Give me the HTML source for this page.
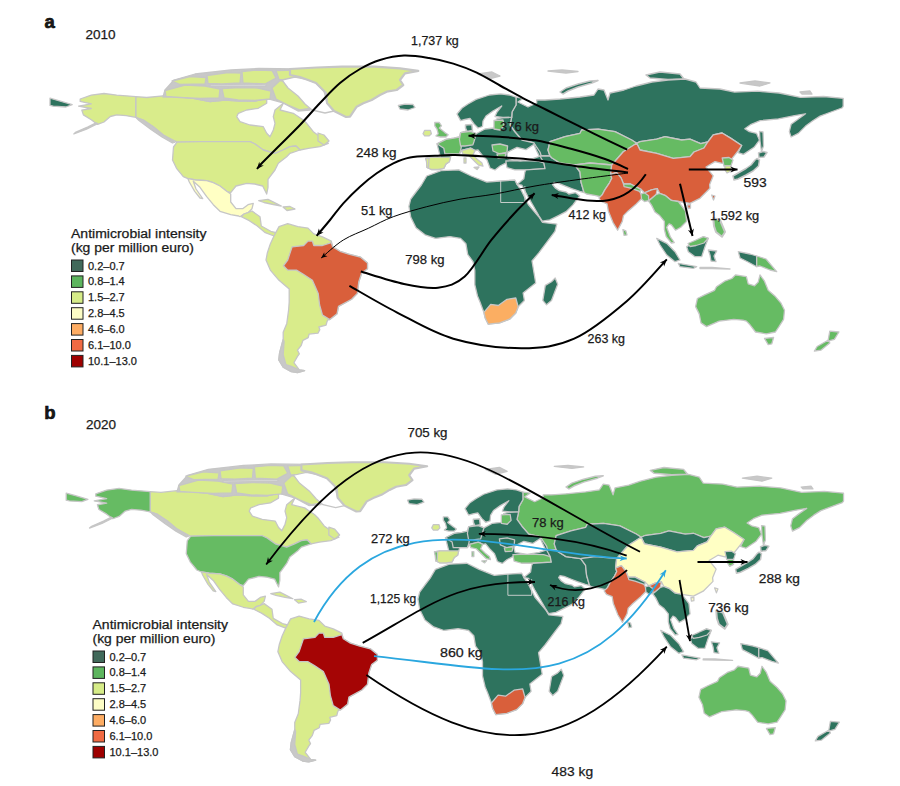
<!DOCTYPE html>
<html><head><meta charset="utf-8"><style>
html,body{margin:0;padding:0;background:#fff;}
svg{display:block;}
text{font-family:"Liberation Sans",sans-serif;fill:#1a1a1a;stroke:#1a1a1a;stroke-width:0.25px;}
</style></head><body>
<svg width="900" height="786" viewBox="0 0 900 786">
<rect width="900" height="786" fill="#fff"/>
<g transform="translate(0,0)" stroke="#c6c6c6" stroke-width="1.3" stroke-linejoin="round">
<path d="M135.7,96.6 146.7,97.5 163.3,95.8 176.7,96.7 193.3,98.3 210.0,101.7 225.0,100.0 240.0,101.0 255.0,101.0 266.7,98.3 278.3,98.3 283.3,103.3 280.0,110.0 293.3,113.3 303.3,120.0 306.7,123.3 313.3,131.7 320.0,136.7 328.3,143.3 320.0,146.7 308.3,148.3 300.0,150.0 296.0,146.0 290.0,146.7 283.0,150.0 275.0,153.3 263.3,150.0 255.0,144.0 250.0,141.7 200.0,141.7 177.0,142.2 163.3,135.0 153.3,126.7 143.3,120.0 135.7,117.3Z" fill="#d9ec8b"/>
<path d="M266.7,98.3 266.7,103.3 258.3,108.3 246.7,110.0 238.3,113.3 236.7,116.7 240.0,121.7 250.0,125.0 263.3,126.7 266.7,133.3 270.0,136.7 273.3,130.0 275.0,123.3 273.3,116.7 275.0,110.0 283.3,103.3 278.3,98.3Z" fill="#ffffff"/>
<path d="M318.0,133.0 324.0,135.0 329.0,141.0 324.0,145.0 318.0,141.0Z" fill="#d9ec8b"/>
<path d="M177.0,142.2 200.0,141.7 250.0,141.7 255.0,144.0 263.3,150.0 275.0,153.3 283.0,150.0 290.0,146.7 296.0,146.0 300.0,150.0 290.0,153.3 286.7,156.7 278.3,163.3 275.0,170.0 270.0,176.7 268.0,179.3 268.0,187.3 266.7,194.0 262.7,186.0 254.7,184.0 246.7,183.3 236.0,186.0 230.7,192.7 226.7,191.3 220.0,186.0 213.3,182.7 206.7,180.7 196.0,180.0 188.0,178.7 183.3,176.7 176.5,168.3 172.5,160.0 173.5,147.0Z" fill="#d9ec8b"/>
<path d="M80.2,99.0 91.3,95.1 104.0,93.5 116.7,95.1 135.7,96.6 135.7,117.3 126.2,115.7 116.7,114.9 110.3,116.5 104.0,122.0 97.6,124.4 91.3,119.7 83.4,114.9 81.8,110.1 91.3,108.5 78.6,106.2 91.3,103.8 80.2,101.4Z" fill="#d9ec8b"/>
<path d="M188.0,178.7 196.0,180.0 206.7,180.7 213.3,182.7 220.0,186.0 226.7,191.3 230.7,194.0 230.7,202.0 236.0,208.7 242.7,208.7 248.0,204.7 253.3,203.3 252.0,208.7 248.0,212.7 244.0,214.0 240.0,216.7 238.7,216.0 230.7,214.7 220.0,211.3 213.3,204.7 206.7,196.7 200.0,187.3 193.3,181.3 196.0,189.0 202.7,198.7 200.0,198.0 194.7,191.3 189.3,182.0Z" fill="#ffffc4"/>
<path d="M244.0,214.0 248.0,212.7 252.0,211.0 260.0,216.7 261.3,226.0 270.7,231.3 276.0,232.7 274.0,236.0 265.3,232.7 257.3,226.0 249.3,220.7 241.3,216.7Z" fill="#d9ec8b"/>
<path d="M258.7,200.7 268.0,199.3 276.0,203.3 281.3,206.0 273.3,204.5 264.0,202.5Z" fill="#d9ec8b"/>
<path d="M283.0,207.0 290.0,206.5 295.0,209.0 287.0,210.5Z" fill="#d9ec8b"/>
<path d="M398.3,105.5 405.0,104.2 413.0,104.5 415.0,107.5 408.0,110.0 400.0,109.0Z" fill="#2e735e"/>
<path d="M165.0,90.0 174.0,80.0 195.0,74.0 231.0,70.0 259.0,68.5 297.0,69.0 318.0,69.0 324.0,70.5 310.0,76.0 300.0,80.0 292.0,86.0 300.0,92.0 310.0,104.0 310.0,110.0 298.0,111.0 283.0,103.0 266.7,98.3 255.0,101.0 240.0,101.0 225.0,100.0 210.0,101.7 193.3,98.3 176.7,96.7 163.0,97.0Z" fill="#c8c8c8"/>
<path d="M165.0,90.5 185.0,85.0 205.0,86.0 220.0,89.0 219.0,98.0 200.0,98.5 180.0,97.5 166.0,96.5Z" fill="#d9ec8b"/>
<path d="M172.0,81.0 190.0,76.5 206.0,77.5 205.0,84.0 180.0,84.5Z" fill="#d9ec8b"/>
<path d="M207.0,75.5 228.0,72.5 241.0,73.0 240.0,83.0 222.0,84.0 208.0,83.5Z" fill="#d9ec8b"/>
<path d="M242.0,71.5 258.0,70.0 272.0,70.5 276.0,78.0 265.0,84.0 243.0,83.0Z" fill="#d9ec8b"/>
<path d="M276.0,70.5 296.0,70.0 318.0,70.5 308.0,75.0 296.0,80.0 279.0,79.5Z" fill="#d9ec8b"/>
<path d="M222.0,88.5 240.0,87.5 258.0,88.0 271.0,91.0 270.0,99.0 255.0,100.5 238.0,100.0 224.0,98.0Z" fill="#d9ec8b"/>
<path d="M272.0,88.0 280.0,80.5 291.0,81.5 296.0,90.0 306.0,98.0 309.5,108.5 300.0,110.0 288.0,105.0 276.0,99.0Z" fill="#d9ec8b"/>
<path d="M210.0,85.2 266.0,84.8 266.0,86.3 210.0,86.7Z" fill="#ffffff"/>
<path d="M282.0,80.0 295.0,77.0 305.0,79.0 316.0,83.0 324.0,91.0 327.0,103.0 334.0,111.0 325.0,113.0 312.0,110.0 305.0,104.0 298.0,96.0 288.0,88.0Z" fill="#ffffff"/>
<path d="M290.0,69.0 316.7,67.5 341.7,66.7 375.0,66.7 400.0,68.3 418.3,70.8 405.0,73.3 400.0,80.0 403.3,85.0 396.7,90.0 386.7,91.7 380.0,95.0 371.7,100.0 363.3,103.3 356.7,106.7 350.0,116.7 346.0,117.0 338.0,113.0 334.0,111.0 327.0,103.0 326.0,93.0 316.0,83.0 300.0,77.0 290.0,75.0Z" fill="#d9ec8b" stroke-width="2.2"/>
<path d="M135.7,117.3 143.3,120.0 153.3,126.7 163.3,135.0 175.0,142.2 172.5,143.0 162.0,137.0 151.0,129.5 139.0,120.5Z" fill="#c8c8c8"/>
<path d="M548.0,71.0 562.0,70.0 578.0,71.5 566.0,73.0Z" fill="#c8c8c8"/>
<path d="M646.0,75.0 660.0,72.0 680.0,74.0 684.0,79.0 668.0,79.5 650.0,78.0Z" fill="#2e735e" stroke-width="1.5"/>
<path d="M740.0,83.0 755.0,81.0 770.0,83.0 760.0,86.0Z" fill="#c8c8c8"/>
<path d="M800.0,92.0 810.0,91.0 812.0,94.0 802.0,94.0Z" fill="#c8c8c8"/>
<path d="M478.0,74.0 492.0,72.0 500.0,76.0 488.0,79.0Z" fill="#c8c8c8"/>
<path d="M97.6,123.6 86.5,129.2 73.8,133.9 75.4,132.4 88.1,126.8 96.1,122.8Z" fill="#c8c8c8"/>
<path d="M50.0,98.2 59.5,100.9 72.2,104.6 65.9,107.0 53.2,106.2 50.0,105.4Z" fill="#2e735e"/>
<path d="M274.0,236.0 279.0,226.6 287.7,223.7 297.9,226.6 308.0,228.1 313.8,233.9 322.5,236.8 331.3,241.1 332.7,246.9 340.0,251.3 348.7,254.2 360.3,257.1 367.5,262.9 367.5,268.7 361.7,273.0 358.8,281.7 357.4,293.4 351.6,299.2 338.5,306.4 337.1,313.7 329.8,319.5 327.9,319.8 327.0,321.6 326.1,325.2 318.9,327.0 319.8,329.6 318.0,333.2 309.1,334.1 308.2,337.7 302.9,340.4 301.1,345.7 297.5,350.2 299.3,353.8 297.5,356.4 293.9,362.7 299.3,369.8 304.6,370.7 297.5,372.5 291.3,371.6 283.2,367.1 278.8,360.0 279.6,352.9 283.2,339.5 283.2,332.3 286.8,323.4 288.6,310.0 289.2,302.0 289.2,289.0 279.0,280.3 270.3,270.1 266.0,260.0 267.4,252.7 270.3,244.0Z" fill="#d9ec8b"/>
<path d="M284.1,341.3 283.2,354.6 285.9,364.5 291.3,366.3 299.3,369.8 304.6,370.7 297.5,372.5 291.3,371.6 283.2,367.1 278.8,360.0 279.6,352.9 283.2,339.5Z" fill="#c8c8c8"/>
<path d="M283.4,265.8 287.7,260.0 292.1,246.9 303.7,245.5 308.0,241.1 312.4,241.1 313.8,245.5 322.5,245.5 331.3,242.6 332.7,246.9 340.0,251.3 348.7,254.2 360.3,257.1 367.5,262.9 367.5,268.7 361.7,273.0 358.8,281.7 357.4,293.4 351.6,299.2 338.5,306.4 337.1,313.7 329.8,319.5 322.5,315.1 319.6,305.0 318.2,293.4 312.4,280.3 303.7,274.5 296.4,270.1 287.7,270.1Z" fill="#d95f3b"/>
<path d="M426.7,176.0 441.0,170.7 458.8,169.8 471.3,176.0 486.8,182.1 500.2,181.0 514.8,180.0 517.0,184.4 521.2,190.3 528.3,204.5 539.0,217.0 542.5,222.4 556.8,224.1 555.0,231.3 549.7,238.4 539.0,252.7 532.0,261.0 535.7,283.0 523.1,293.0 524.4,300.5 518.2,306.8 515.8,313.0 509.6,319.2 499.6,322.9 488.3,324.2 485.2,318.0 483.9,312.4 480.0,302.0 477.5,296.0 474.8,284.7 474.8,270.5 473.0,261.6 467.7,254.4 465.9,243.7 460.6,238.4 449.9,236.6 435.6,238.4 425.0,234.8 416.0,227.7 410.7,217.0 408.9,206.3 410.7,199.2 416.0,192.0 421.4,185.0Z" fill="#2e735e"/>
<path d="M483.9,312.4 490.7,304.3 498.3,305.5 507.0,299.3 515.8,298.0 518.2,306.8 515.8,313.0 509.6,319.2 499.6,322.9 488.3,324.2 485.2,318.0Z" fill="#fbae62"/>
<path d="M555.2,278.0 557.7,284.2 551.5,300.4 546.5,304.8 542.8,300.4 545.3,285.4 551.5,281.7Z" fill="#2e735e"/>
<path d="M516.0,97.2 523.3,98.3 518.0,102.0 528.0,107.0 536.7,103.0 536.7,100.0 545.0,100.0 560.0,99.0 580.0,97.0 594.0,95.0 598.0,89.0 604.0,90.0 608.0,100.0 610.0,93.0 624.0,90.0 636.0,86.0 652.0,82.0 668.0,80.0 685.0,79.0 696.0,82.0 700.0,88.0 720.0,89.0 734.5,92.1 757.7,91.2 779.1,93.0 800.5,97.4 823.6,96.5 843.2,98.3 843.2,106.3 841.9,108.0 831.0,112.0 820.1,116.1 812.8,120.7 805.6,126.1 798.3,133.4 791.1,137.0 789.3,131.6 791.1,124.3 798.3,118.9 805.6,113.8 794.7,115.6 778.4,118.9 760.2,120.7 751.2,124.3 744.8,128.8 749.3,131.6 756.6,133.4 759.5,140.2 754.1,147.3 743.5,154.4 738.1,152.7 741.7,145.5 731.0,138.4 722.1,133.0 713.2,134.8 707.8,142.0 700.7,143.7 690.0,139.2 681.7,140.0 665.0,136.7 656.7,139.2 640.0,141.7 636.7,143.3 631.7,140.0 615.0,131.7 598.3,129.2 581.7,130.0 580.0,133.3 565.0,136.7 550.0,141.7 548.0,150.0 550.0,156.0 540.0,156.0 533.8,142.9 522.0,140.0 515.0,132.0 510.0,125.0 511.7,117.2 512.0,112.0 516.0,105.0Z" fill="#2e735e"/>
<path d="M560.0,92.0 566.0,88.0 578.0,84.0 590.0,81.0 598.0,80.5 592.0,83.0 578.0,87.0 568.0,91.0 563.0,94.0Z" fill="#2e735e" stroke-width="1.5"/>
<path d="M425.8,158.3 431.4,157.2 440.4,157.2 437.0,143.8 446.0,139.3 453.8,138.2 459.4,137.0 460.6,132.6 466.0,131.0 470.6,131.4 476.2,133.7 485.0,129.0 494.0,128.0 495.0,124.0 496.4,119.1 503.0,117.5 511.7,117.2 510.0,125.0 515.0,132.0 522.0,140.0 533.8,142.9 540.0,152.0 543.9,164.2 520.0,162.0 505.8,163.1 500.0,166.0 495.0,170.0 490.0,168.0 487.0,160.0 482.0,155.0 478.0,150.0 475.1,150.5 470.6,148.2 461.7,150.5 459.4,153.8 451.6,153.8 450.5,157.2 449.4,161.7 446.0,163.9 443.8,168.4 438.2,169.5 431.4,169.5 427.0,167.3 427.0,161.7Z" fill="#2e735e"/>
<path d="M457.0,114.0 462.0,108.0 468.0,104.0 476.0,99.4 489.4,95.0 500.6,93.9 509.4,95.0 516.0,97.2 516.0,105.0 512.0,112.0 511.7,117.2 503.0,117.5 495.0,116.5 497.0,112.0 501.7,106.0 493.0,111.0 486.0,116.0 483.0,121.0 482.5,126.5 478.0,128.0 474.0,124.0 470.0,118.5 465.0,119.5 460.6,120.6Z" fill="#2e735e"/>
<path d="M465.5,125.0 471.8,124.5 472.5,130.5 467.0,131.5 465.5,128.0Z" fill="#2e735e" stroke-width="1.5"/>
<path d="M474.0,167.5 479.0,167.0 477.0,169.5Z" fill="#d9ec8b"/>
<path d="M464.0,158.0 466.0,158.0 466.0,163.0 464.0,163.0Z" fill="#d9ec8b"/>
<path d="M434.8,122.5 439.3,122.5 441.5,125.8 439.3,128.1 444.9,132.6 448.2,134.8 446.0,137.0 440.4,137.0 435.9,135.9 438.2,133.7 437.0,129.2 434.8,125.8Z" fill="#66bb63"/>
<path d="M424.7,130.3 430.3,130.3 431.4,133.7 429.2,135.9 424.7,135.9 423.0,133.7Z" fill="#d9ec8b"/>
<path d="M437.0,143.8 446.0,139.3 453.8,138.2 459.4,137.0 461.7,144.9 460.6,150.5 459.4,153.8 451.6,153.8 444.9,153.8 443.8,148.2 440.4,146.0Z" fill="#66bb63"/>
<path d="M425.8,158.3 431.4,157.2 440.4,157.2 450.5,157.2 449.4,161.7 446.0,163.9 443.8,168.4 438.2,169.5 431.4,169.5 427.0,167.3 427.0,161.7Z" fill="#d9ec8b"/>
<path d="M425.8,158.3 429.0,158.0 428.5,167.5 427.0,167.3 426.5,162.0Z" fill="#d9ec8b"/>
<path d="M460.6,132.6 470.6,131.4 476.2,133.7 474.0,141.5 472.9,144.9 465.0,146.0 460.6,146.0 459.4,139.3Z" fill="#66bb63"/>
<path d="M461.7,150.5 470.6,148.2 475.1,150.5 472.9,155.0 477.4,159.4 481.8,162.8 483.0,166.1 478.5,165.0 475.1,161.7 468.4,155.0 462.8,153.8Z" fill="#d9ec8b"/>
<path d="M494.0,120.5 503.0,120.0 504.0,126.0 500.0,130.0 494.0,129.0Z" fill="#66bb63"/>
<path d="M492.0,145.0 500.0,144.0 507.6,146.0 507.0,152.0 500.0,154.0 493.0,151.0Z" fill="#66bb63"/>
<path d="M497.0,154.0 506.0,153.0 505.0,157.5 498.0,158.0Z" fill="#66bb63"/>
<path d="M505.8,161.0 520.4,160.5 537.2,161.0 543.9,163.0 545.0,168.7 526.0,169.8 514.8,169.8 507.0,167.6Z" fill="#2e735e"/>
<path d="M517.0,184.4 523.8,178.8 524.9,172.0 526.0,169.8 545.0,168.7 543.9,163.0 540.0,156.0 550.0,156.0 552.0,158.0 560.0,163.0 575.0,165.0 580.0,172.0 581.0,182.0 584.0,192.5 579.7,191.3 571.6,188.6 564.8,185.9 558.0,183.1 553.9,182.5 552.5,184.5 555.2,187.9 559.3,190.6 566.1,192.0 568.8,194.0 575.6,192.7 579.7,196.1 577.0,199.5 572.9,204.9 566.1,211.7 558.0,215.8 549.8,219.9 542.3,221.2 538.9,215.8 533.5,206.3 528.0,196.8 521.9,185.2Z" fill="#2e735e"/>
<path d="M550.0,141.7 565.0,136.7 580.0,133.3 581.7,130.0 598.3,129.2 615.0,131.7 631.7,140.0 636.7,143.3 623.3,151.7 611.7,165.0 590.0,163.0 575.0,165.0 560.0,163.0 552.0,158.0 550.0,156.0 548.0,150.0Z" fill="#66bb63"/>
<path d="M575.0,165.0 590.0,163.0 611.7,165.0 610.6,174.7 611.8,178.2 609.5,182.8 604.8,189.9 602.4,194.5 606.9,198.1 601.5,197.0 594.7,195.4 586.5,194.0 584.0,192.5 581.0,182.0 580.0,172.0Z" fill="#66bb63"/>
<path d="M636.7,143.3 640.0,141.7 656.7,139.2 665.0,136.7 681.7,140.0 690.0,139.2 700.7,143.7 707.8,142.0 704.0,148.0 694.0,152.0 690.0,156.7 673.3,158.3 656.7,153.3 640.0,150.0Z" fill="#66bb63"/>
<path d="M611.7,165.0 623.3,151.7 636.7,143.3 640.0,150.0 656.7,153.3 673.3,158.3 690.0,156.7 694.0,152.0 704.0,148.0 707.8,142.0 713.2,134.8 722.1,133.0 731.0,138.4 741.7,145.5 738.1,150.9 731.0,159.8 722.1,163.3 715.0,161.6 706.0,167.0 713.2,175.8 709.6,184.7 710.0,188.3 700.0,198.3 690.0,203.3 678.4,201.5 671.4,200.4 665.6,195.7 659.7,193.4 657.4,188.7 651.5,189.9 644.5,192.8 641.0,189.3 630.5,184.0 623.5,184.0 621.2,178.2 616.5,172.3 610.6,174.7Z" fill="#d95f3b"/>
<path d="M722.2,158.0 729.0,157.5 733.0,160.0 731.0,165.8 724.0,166.0Z" fill="#66bb63"/>
<path d="M724.9,165.8 731.0,165.8 731.0,171.0 727.0,173.0 725.0,170.0Z" fill="#d9ec8b"/>
<path d="M733.0,176.0 740.0,172.0 746.0,168.5 751.0,165.0 755.0,160.0 757.0,158.5 759.5,160.0 758.5,166.0 753.0,171.0 746.0,175.0 738.0,179.0 734.0,180.0Z" fill="#2e735e" stroke-width="1.5"/>
<path d="M758.5,153.0 763.0,151.5 767.0,152.5 764.0,157.0 759.0,157.5Z" fill="#2e735e" stroke-width="1.5"/>
<path d="M759.5,131.3 763.0,132.0 763.5,146.0 761.5,151.5 760.0,141.0Z" fill="#2e735e"/>
<path d="M687.5,205.0 690.5,204.5 690.5,208.0 688.0,208.5Z" fill="#d95f3b"/>
<path d="M711.7,195.0 715.0,196.0 713.5,200.0Z" fill="#d95f3b"/>
<path d="M610.6,174.7 616.5,172.3 621.2,178.2 623.5,184.0 630.5,187.5 638.7,189.9 641.0,193.9 644.5,192.8 651.5,189.9 657.4,188.7 656.2,194.5 651.5,198.6 648.0,200.4 644.5,195.7 641.0,199.2 636.3,203.9 628.2,210.9 623.5,215.6 622.3,221.4 617.6,230.2 613.0,222.6 608.3,210.9 607.1,203.9 601.3,201.5 598.9,198.0 602.4,194.5 604.8,189.9 609.5,182.8 611.8,178.2Z" fill="#d95f3b"/>
<path d="M623.5,184.0 630.5,184.0 641.0,189.3 640.4,191.6 630.5,188.1 624.1,186.6Z" fill="#66bb63"/>
<path d="M641.0,193.9 644.5,192.8 648.6,195.7 648.6,200.6 644.5,201.5 641.6,199.2Z" fill="#66bb63"/>
<path d="M656.2,194.5 659.7,193.4 665.6,195.7 671.4,200.4 678.4,201.5 685.4,210.9 686.6,221.4 680.8,227.3 675.5,230.2 671.4,224.9 669.1,223.8 666.7,227.3 670.2,236.6 674.3,242.5 671.4,243.0 666.2,236.6 664.4,229.6 664.4,221.4 659.7,215.6 655.0,212.1 651.5,205.1 648.6,201.0 651.5,198.6Z" fill="#66bb63"/>
<path d="M656.7,238.3 666.7,243.3 675.0,251.7 680.0,260.0 675.0,261.7 666.7,255.0 660.0,245.0Z" fill="#2e735e"/>
<path d="M678.3,263.3 696.7,266.7 693.3,268.3 680.0,266.7Z" fill="#2e735e"/>
<path d="M686.7,246.7 693.3,243.3 703.3,236.7 708.3,238.3 705.0,246.7 701.7,256.7 695.0,256.7 688.3,251.7Z" fill="#2e735e"/>
<path d="M688.0,243.5 695.0,240.5 703.3,236.7 708.3,238.3 704.0,243.0 696.0,245.5 690.0,246.5Z" fill="#66bb63"/>
<path d="M708.3,250.0 716.7,251.0 714.0,256.0 716.0,261.7 711.0,261.0 710.0,255.0Z" fill="#2e735e"/>
<path d="M713.3,218.3 720.0,220.0 725.0,232.0 722.0,236.7 716.0,232.0 714.0,226.0Z" fill="#66bb63" stroke-width="2"/>
<path d="M738.3,251.7 750.0,254.0 756.7,256.0 756.7,266.7 748.0,262.0 740.0,258.0Z" fill="#2e735e"/>
<path d="M756.7,256.0 766.0,259.0 776.7,271.7 770.0,270.0 760.0,266.0 756.7,266.7Z" fill="#66bb63"/>
<path d="M697.4,298.5 704.7,294.8 714.6,290.3 716.5,286.7 724.6,281.2 731.9,278.5 735.5,274.9 746.4,276.7 748.2,283.9 754.6,285.8 758.2,282.1 760.0,274.9 764.5,281.2 768.2,290.3 775.4,296.6 780.9,303.0 784.5,310.2 783.6,319.3 779.0,326.6 775.4,332.0 766.3,333.8 755.5,332.0 750.0,324.8 746.4,321.1 742.8,320.2 733.7,319.3 719.2,321.1 706.5,326.6 701.0,322.9 699.2,313.9 695.6,306.6Z" fill="#66bb63"/>
<path d="M764.5,338.4 773.6,337.5 771.8,343.8 768.2,344.7Z" fill="#66bb63"/>
<path d="M829.8,331.1 838.9,332.0 834.4,339.3 828.0,341.1Z" fill="#66bb63"/>
<path d="M828.0,340.2 829.8,342.9 820.8,350.2 814.4,351.1 817.1,346.5Z" fill="#66bb63"/>
<path d="M622.9,229.6 625.8,230.8 627.0,234.9 624.1,235.4Z" fill="#66bb63"/>
<path d="M508.0,151.9 517.0,147.4 526.0,149.6 533.8,144.5 537.2,151.9 539.4,156.4 532.7,158.6 520.4,160.8 508.0,158.6 507.0,154.1Z" fill="#ffffff"/>
<path d="M700.0,267.5 712.0,267.5 730.0,269.0 712.0,268.6 700.0,268.5Z" fill="#c8c8c8"/>
<path d="M500.7,181 L500.7,202.5 L524.9,202.5 L524.9,186" fill="none" stroke="#d6d6d6" stroke-width="0.9"/>
</g>
<g transform="translate(17.2,396.85) scale(0.98)" stroke="#c6c6c6" stroke-width="1.3" stroke-linejoin="round">
<path d="M135.7,96.6 146.7,97.5 163.3,95.8 176.7,96.7 193.3,98.3 210.0,101.7 225.0,100.0 240.0,101.0 255.0,101.0 266.7,98.3 278.3,98.3 283.3,103.3 280.0,110.0 293.3,113.3 303.3,120.0 306.7,123.3 313.3,131.7 320.0,136.7 328.3,143.3 320.0,146.7 308.3,148.3 300.0,150.0 296.0,146.0 290.0,146.7 283.0,150.0 275.0,153.3 263.3,150.0 255.0,144.0 250.0,141.7 200.0,141.7 177.0,142.2 163.3,135.0 153.3,126.7 143.3,120.0 135.7,117.3Z" fill="#d9ec8b"/>
<path d="M266.7,98.3 266.7,103.3 258.3,108.3 246.7,110.0 238.3,113.3 236.7,116.7 240.0,121.7 250.0,125.0 263.3,126.7 266.7,133.3 270.0,136.7 273.3,130.0 275.0,123.3 273.3,116.7 275.0,110.0 283.3,103.3 278.3,98.3Z" fill="#ffffff"/>
<path d="M318.0,133.0 324.0,135.0 329.0,141.0 324.0,145.0 318.0,141.0Z" fill="#d9ec8b"/>
<path d="M177.0,142.2 200.0,141.7 250.0,141.7 255.0,144.0 263.3,150.0 275.0,153.3 283.0,150.0 290.0,146.7 296.0,146.0 300.0,150.0 290.0,153.3 286.7,156.7 278.3,163.3 275.0,170.0 270.0,176.7 268.0,179.3 268.0,187.3 266.7,194.0 262.7,186.0 254.7,184.0 246.7,183.3 236.0,186.0 230.7,192.7 226.7,191.3 220.0,186.0 213.3,182.7 206.7,180.7 196.0,180.0 188.0,178.7 183.3,176.7 176.5,168.3 172.5,160.0 173.5,147.0Z" fill="#66bb63"/>
<path d="M80.2,99.0 91.3,95.1 104.0,93.5 116.7,95.1 135.7,96.6 135.7,117.3 126.2,115.7 116.7,114.9 110.3,116.5 104.0,122.0 97.6,124.4 91.3,119.7 83.4,114.9 81.8,110.1 91.3,108.5 78.6,106.2 91.3,103.8 80.2,101.4Z" fill="#66bb63"/>
<path d="M188.0,178.7 196.0,180.0 206.7,180.7 213.3,182.7 220.0,186.0 226.7,191.3 230.7,194.0 230.7,202.0 236.0,208.7 242.7,208.7 248.0,204.7 253.3,203.3 252.0,208.7 248.0,212.7 244.0,214.0 240.0,216.7 238.7,216.0 230.7,214.7 220.0,211.3 213.3,204.7 206.7,196.7 200.0,187.3 193.3,181.3 196.0,189.0 202.7,198.7 200.0,198.0 194.7,191.3 189.3,182.0Z" fill="#d9ec8b"/>
<path d="M244.0,214.0 248.0,212.7 252.0,211.0 260.0,216.7 261.3,226.0 270.7,231.3 276.0,232.7 274.0,236.0 265.3,232.7 257.3,226.0 249.3,220.7 241.3,216.7Z" fill="#d9ec8b"/>
<path d="M258.7,200.7 268.0,199.3 276.0,203.3 281.3,206.0 273.3,204.5 264.0,202.5Z" fill="#d9ec8b"/>
<path d="M283.0,207.0 290.0,206.5 295.0,209.0 287.0,210.5Z" fill="#d9ec8b"/>
<path d="M398.3,105.5 405.0,104.2 413.0,104.5 415.0,107.5 408.0,110.0 400.0,109.0Z" fill="#2e735e"/>
<path d="M165.0,90.0 174.0,80.0 195.0,74.0 231.0,70.0 259.0,68.5 297.0,69.0 318.0,69.0 324.0,70.5 310.0,76.0 300.0,80.0 292.0,86.0 300.0,92.0 310.0,104.0 310.0,110.0 298.0,111.0 283.0,103.0 266.7,98.3 255.0,101.0 240.0,101.0 225.0,100.0 210.0,101.7 193.3,98.3 176.7,96.7 163.0,97.0Z" fill="#c8c8c8"/>
<path d="M165.0,90.5 185.0,85.0 205.0,86.0 220.0,89.0 219.0,98.0 200.0,98.5 180.0,97.5 166.0,96.5Z" fill="#d9ec8b"/>
<path d="M172.0,81.0 190.0,76.5 206.0,77.5 205.0,84.0 180.0,84.5Z" fill="#d9ec8b"/>
<path d="M207.0,75.5 228.0,72.5 241.0,73.0 240.0,83.0 222.0,84.0 208.0,83.5Z" fill="#d9ec8b"/>
<path d="M242.0,71.5 258.0,70.0 272.0,70.5 276.0,78.0 265.0,84.0 243.0,83.0Z" fill="#d9ec8b"/>
<path d="M276.0,70.5 296.0,70.0 318.0,70.5 308.0,75.0 296.0,80.0 279.0,79.5Z" fill="#d9ec8b"/>
<path d="M222.0,88.5 240.0,87.5 258.0,88.0 271.0,91.0 270.0,99.0 255.0,100.5 238.0,100.0 224.0,98.0Z" fill="#d9ec8b"/>
<path d="M272.0,88.0 280.0,80.5 291.0,81.5 296.0,90.0 306.0,98.0 309.5,108.5 300.0,110.0 288.0,105.0 276.0,99.0Z" fill="#d9ec8b"/>
<path d="M210.0,85.2 266.0,84.8 266.0,86.3 210.0,86.7Z" fill="#ffffff"/>
<path d="M282.0,80.0 295.0,77.0 305.0,79.0 316.0,83.0 324.0,91.0 327.0,103.0 334.0,111.0 325.0,113.0 312.0,110.0 305.0,104.0 298.0,96.0 288.0,88.0Z" fill="#ffffff"/>
<path d="M290.0,69.0 316.7,67.5 341.7,66.7 375.0,66.7 400.0,68.3 418.3,70.8 405.0,73.3 400.0,80.0 403.3,85.0 396.7,90.0 386.7,91.7 380.0,95.0 371.7,100.0 363.3,103.3 356.7,106.7 350.0,116.7 346.0,117.0 338.0,113.0 334.0,111.0 327.0,103.0 326.0,93.0 316.0,83.0 300.0,77.0 290.0,75.0Z" fill="#d9ec8b" stroke-width="2.2"/>
<path d="M135.7,117.3 143.3,120.0 153.3,126.7 163.3,135.0 175.0,142.2 172.5,143.0 162.0,137.0 151.0,129.5 139.0,120.5Z" fill="#c8c8c8"/>
<path d="M548.0,71.0 562.0,70.0 578.0,71.5 566.0,73.0Z" fill="#c8c8c8"/>
<path d="M646.0,75.0 660.0,72.0 680.0,74.0 684.0,79.0 668.0,79.5 650.0,78.0Z" fill="#66bb63" stroke-width="1.5"/>
<path d="M740.0,83.0 755.0,81.0 770.0,83.0 760.0,86.0Z" fill="#c8c8c8"/>
<path d="M800.0,92.0 810.0,91.0 812.0,94.0 802.0,94.0Z" fill="#c8c8c8"/>
<path d="M478.0,74.0 492.0,72.0 500.0,76.0 488.0,79.0Z" fill="#c8c8c8"/>
<path d="M97.6,123.6 86.5,129.2 73.8,133.9 75.4,132.4 88.1,126.8 96.1,122.8Z" fill="#c8c8c8"/>
<path d="M50.0,98.2 59.5,100.9 72.2,104.6 65.9,107.0 53.2,106.2 50.0,105.4Z" fill="#66bb63"/>
<path d="M274.0,236.0 279.0,226.6 287.7,223.7 297.9,226.6 308.0,228.1 313.8,233.9 322.5,236.8 331.3,241.1 332.7,246.9 340.0,251.3 348.7,254.2 360.3,257.1 367.5,262.9 367.5,268.7 361.7,273.0 358.8,281.7 357.4,293.4 351.6,299.2 338.5,306.4 337.1,313.7 329.8,319.5 327.9,319.8 327.0,321.6 326.1,325.2 318.9,327.0 319.8,329.6 318.0,333.2 309.1,334.1 308.2,337.7 302.9,340.4 301.1,345.7 297.5,350.2 299.3,353.8 297.5,356.4 293.9,362.7 299.3,369.8 304.6,370.7 297.5,372.5 291.3,371.6 283.2,367.1 278.8,360.0 279.6,352.9 283.2,339.5 283.2,332.3 286.8,323.4 288.6,310.0 289.2,302.0 289.2,289.0 279.0,280.3 270.3,270.1 266.0,260.0 267.4,252.7 270.3,244.0Z" fill="#d9ec8b"/>
<path d="M284.1,341.3 283.2,354.6 285.9,364.5 291.3,366.3 299.3,369.8 304.6,370.7 297.5,372.5 291.3,371.6 283.2,367.1 278.8,360.0 279.6,352.9 283.2,339.5Z" fill="#c8c8c8"/>
<path d="M283.4,265.8 287.7,260.0 292.1,246.9 303.7,245.5 308.0,241.1 312.4,241.1 313.8,245.5 322.5,245.5 331.3,242.6 332.7,246.9 340.0,251.3 348.7,254.2 360.3,257.1 367.5,262.9 367.5,268.7 361.7,273.0 358.8,281.7 357.4,293.4 351.6,299.2 338.5,306.4 337.1,313.7 329.8,319.5 322.5,315.1 319.6,305.0 318.2,293.4 312.4,280.3 303.7,274.5 296.4,270.1 287.7,270.1Z" fill="#a50505"/>
<path d="M426.7,176.0 441.0,170.7 458.8,169.8 471.3,176.0 486.8,182.1 500.2,181.0 514.8,180.0 517.0,184.4 521.2,190.3 528.3,204.5 539.0,217.0 542.5,222.4 556.8,224.1 555.0,231.3 549.7,238.4 539.0,252.7 532.0,261.0 535.7,283.0 523.1,293.0 524.4,300.5 518.2,306.8 515.8,313.0 509.6,319.2 499.6,322.9 488.3,324.2 485.2,318.0 483.9,312.4 480.0,302.0 477.5,296.0 474.8,284.7 474.8,270.5 473.0,261.6 467.7,254.4 465.9,243.7 460.6,238.4 449.9,236.6 435.6,238.4 425.0,234.8 416.0,227.7 410.7,217.0 408.9,206.3 410.7,199.2 416.0,192.0 421.4,185.0Z" fill="#2e735e"/>
<path d="M483.9,312.4 490.7,304.3 498.3,305.5 507.0,299.3 515.8,298.0 518.2,306.8 515.8,313.0 509.6,319.2 499.6,322.9 488.3,324.2 485.2,318.0Z" fill="#d95f3b"/>
<path d="M555.2,278.0 557.7,284.2 551.5,300.4 546.5,304.8 542.8,300.4 545.3,285.4 551.5,281.7Z" fill="#2e735e"/>
<path d="M516.0,97.2 523.3,98.3 518.0,102.0 528.0,107.0 536.7,103.0 536.7,100.0 545.0,100.0 560.0,99.0 580.0,97.0 594.0,95.0 598.0,89.0 604.0,90.0 608.0,100.0 610.0,93.0 624.0,90.0 636.0,86.0 652.0,82.0 668.0,80.0 685.0,79.0 696.0,82.0 700.0,88.0 720.0,89.0 734.5,92.1 757.7,91.2 779.1,93.0 800.5,97.4 823.6,96.5 843.2,98.3 843.2,106.3 841.9,108.0 831.0,112.0 820.1,116.1 812.8,120.7 805.6,126.1 798.3,133.4 791.1,137.0 789.3,131.6 791.1,124.3 798.3,118.9 805.6,113.8 794.7,115.6 778.4,118.9 760.2,120.7 751.2,124.3 744.8,128.8 749.3,131.6 756.6,133.4 759.5,140.2 754.1,147.3 743.5,154.4 738.1,152.7 741.7,145.5 731.0,138.4 722.1,133.0 713.2,134.8 707.8,142.0 700.7,143.7 690.0,139.2 681.7,140.0 665.0,136.7 656.7,139.2 640.0,141.7 636.7,143.3 631.7,140.0 615.0,131.7 598.3,129.2 581.7,130.0 580.0,133.3 565.0,136.7 550.0,141.7 548.0,150.0 550.0,156.0 540.0,156.0 533.8,142.9 522.0,140.0 515.0,132.0 510.0,125.0 511.7,117.2 512.0,112.0 516.0,105.0Z" fill="#66bb63"/>
<path d="M560.0,92.0 566.0,88.0 578.0,84.0 590.0,81.0 598.0,80.5 592.0,83.0 578.0,87.0 568.0,91.0 563.0,94.0Z" fill="#66bb63" stroke-width="1.5"/>
<path d="M425.8,158.3 431.4,157.2 440.4,157.2 437.0,143.8 446.0,139.3 453.8,138.2 459.4,137.0 460.6,132.6 466.0,131.0 470.6,131.4 476.2,133.7 485.0,129.0 494.0,128.0 495.0,124.0 496.4,119.1 503.0,117.5 511.7,117.2 510.0,125.0 515.0,132.0 522.0,140.0 533.8,142.9 540.0,152.0 543.9,164.2 520.0,162.0 505.8,163.1 500.0,166.0 495.0,170.0 490.0,168.0 487.0,160.0 482.0,155.0 478.0,150.0 475.1,150.5 470.6,148.2 461.7,150.5 459.4,153.8 451.6,153.8 450.5,157.2 449.4,161.7 446.0,163.9 443.8,168.4 438.2,169.5 431.4,169.5 427.0,167.3 427.0,161.7Z" fill="#2e735e"/>
<path d="M457.0,114.0 462.0,108.0 468.0,104.0 476.0,99.4 489.4,95.0 500.6,93.9 509.4,95.0 516.0,97.2 516.0,105.0 512.0,112.0 511.7,117.2 503.0,117.5 495.0,116.5 497.0,112.0 501.7,106.0 493.0,111.0 486.0,116.0 483.0,121.0 482.5,126.5 478.0,128.0 474.0,124.0 470.0,118.5 465.0,119.5 460.6,120.6Z" fill="#2e735e"/>
<path d="M465.5,125.0 471.8,124.5 472.5,130.5 467.0,131.5 465.5,128.0Z" fill="#2e735e" stroke-width="1.5"/>
<path d="M474.0,167.5 479.0,167.0 477.0,169.5Z" fill="#66bb63"/>
<path d="M464.0,158.0 466.0,158.0 466.0,163.0 464.0,163.0Z" fill="#66bb63"/>
<path d="M434.8,122.5 439.3,122.5 441.5,125.8 439.3,128.1 444.9,132.6 448.2,134.8 446.0,137.0 440.4,137.0 435.9,135.9 438.2,133.7 437.0,129.2 434.8,125.8Z" fill="#2e735e"/>
<path d="M424.7,130.3 430.3,130.3 431.4,133.7 429.2,135.9 424.7,135.9 423.0,133.7Z" fill="#d9ec8b"/>
<path d="M437.0,143.8 446.0,139.3 453.8,138.2 459.4,137.0 461.7,144.9 460.6,150.5 459.4,153.8 451.6,153.8 444.9,153.8 443.8,148.2 440.4,146.0Z" fill="#2e735e"/>
<path d="M425.8,158.3 431.4,157.2 440.4,157.2 450.5,157.2 449.4,161.7 446.0,163.9 443.8,168.4 438.2,169.5 431.4,169.5 427.0,167.3 427.0,161.7Z" fill="#d9ec8b"/>
<path d="M425.8,158.3 429.0,158.0 428.5,167.5 427.0,167.3 426.5,162.0Z" fill="#66bb63"/>
<path d="M460.6,132.6 470.6,131.4 476.2,133.7 474.0,141.5 472.9,144.9 465.0,146.0 460.6,146.0 459.4,139.3Z" fill="#2e735e"/>
<path d="M461.7,150.5 470.6,148.2 475.1,150.5 472.9,155.0 477.4,159.4 481.8,162.8 483.0,166.1 478.5,165.0 475.1,161.7 468.4,155.0 462.8,153.8Z" fill="#66bb63"/>
<path d="M494.0,120.5 503.0,120.0 504.0,126.0 500.0,130.0 494.0,129.0Z" fill="#66bb63"/>
<path d="M492.0,145.0 500.0,144.0 507.6,146.0 507.0,152.0 500.0,154.0 493.0,151.0Z" fill="#2e735e"/>
<path d="M497.0,154.0 506.0,153.0 505.0,157.5 498.0,158.0Z" fill="#66bb63"/>
<path d="M505.8,161.0 520.4,160.5 537.2,161.0 543.9,163.0 545.0,168.7 526.0,169.8 514.8,169.8 507.0,167.6Z" fill="#66bb63"/>
<path d="M517.0,184.4 523.8,178.8 524.9,172.0 526.0,169.8 545.0,168.7 543.9,163.0 540.0,156.0 550.0,156.0 552.0,158.0 560.0,163.0 575.0,165.0 580.0,172.0 581.0,182.0 584.0,192.5 579.7,191.3 571.6,188.6 564.8,185.9 558.0,183.1 553.9,182.5 552.5,184.5 555.2,187.9 559.3,190.6 566.1,192.0 568.8,194.0 575.6,192.7 579.7,196.1 577.0,199.5 572.9,204.9 566.1,211.7 558.0,215.8 549.8,219.9 542.3,221.2 538.9,215.8 533.5,206.3 528.0,196.8 521.9,185.2Z" fill="#2e735e"/>
<path d="M550.0,141.7 565.0,136.7 580.0,133.3 581.7,130.0 598.3,129.2 615.0,131.7 631.7,140.0 636.7,143.3 623.3,151.7 611.7,165.0 590.0,163.0 575.0,165.0 560.0,163.0 552.0,158.0 550.0,156.0 548.0,150.0Z" fill="#2e735e"/>
<path d="M575.0,165.0 590.0,163.0 611.7,165.0 610.6,174.7 611.8,178.2 609.5,182.8 604.8,189.9 602.4,194.5 606.9,198.1 601.5,197.0 594.7,195.4 586.5,194.0 584.0,192.5 581.0,182.0 580.0,172.0Z" fill="#2e735e"/>
<path d="M636.7,143.3 640.0,141.7 656.7,139.2 665.0,136.7 681.7,140.0 690.0,139.2 700.7,143.7 707.8,142.0 704.0,148.0 694.0,152.0 690.0,156.7 673.3,158.3 656.7,153.3 640.0,150.0Z" fill="#2e735e"/>
<path d="M611.7,165.0 623.3,151.7 636.7,143.3 640.0,150.0 656.7,153.3 673.3,158.3 690.0,156.7 694.0,152.0 704.0,148.0 707.8,142.0 713.2,134.8 722.1,133.0 731.0,138.4 741.7,145.5 738.1,150.9 731.0,159.8 722.1,163.3 715.0,161.6 706.0,167.0 713.2,175.8 709.6,184.7 710.0,188.3 700.0,198.3 690.0,203.3 678.4,201.5 671.4,200.4 665.6,195.7 659.7,193.4 657.4,188.7 651.5,189.9 644.5,192.8 641.0,189.3 630.5,184.0 623.5,184.0 621.2,178.2 616.5,172.3 610.6,174.7Z" fill="#ffffc4"/>
<path d="M722.2,158.0 729.0,157.5 733.0,160.0 731.0,165.8 724.0,166.0Z" fill="#2e735e"/>
<path d="M724.9,165.8 731.0,165.8 731.0,171.0 727.0,173.0 725.0,170.0Z" fill="#66bb63"/>
<path d="M733.0,176.0 740.0,172.0 746.0,168.5 751.0,165.0 755.0,160.0 757.0,158.5 759.5,160.0 758.5,166.0 753.0,171.0 746.0,175.0 738.0,179.0 734.0,180.0Z" fill="#2e735e" stroke-width="1.5"/>
<path d="M758.5,153.0 763.0,151.5 767.0,152.5 764.0,157.0 759.0,157.5Z" fill="#2e735e" stroke-width="1.5"/>
<path d="M759.5,131.3 763.0,132.0 763.5,146.0 761.5,151.5 760.0,141.0Z" fill="#66bb63"/>
<path d="M687.5,205.0 690.5,204.5 690.5,208.0 688.0,208.5Z" fill="#ffffc4"/>
<path d="M711.7,195.0 715.0,196.0 713.5,200.0Z" fill="#ffffc4"/>
<path d="M610.6,174.7 616.5,172.3 621.2,178.2 623.5,184.0 630.5,187.5 638.7,189.9 641.0,193.9 644.5,192.8 651.5,189.9 657.4,188.7 656.2,194.5 651.5,198.6 648.0,200.4 644.5,195.7 641.0,199.2 636.3,203.9 628.2,210.9 623.5,215.6 622.3,221.4 617.6,230.2 613.0,222.6 608.3,210.9 607.1,203.9 601.3,201.5 598.9,198.0 602.4,194.5 604.8,189.9 609.5,182.8 611.8,178.2Z" fill="#d95f3b"/>
<path d="M623.5,184.0 630.5,184.0 641.0,189.3 640.4,191.6 630.5,188.1 624.1,186.6Z" fill="#2e735e"/>
<path d="M641.0,193.9 644.5,192.8 648.6,195.7 648.6,200.6 644.5,201.5 641.6,199.2Z" fill="#2e735e"/>
<path d="M656.2,194.5 659.7,193.4 665.6,195.7 671.4,200.4 678.4,201.5 685.4,210.9 686.6,221.4 680.8,227.3 675.5,230.2 671.4,224.9 669.1,223.8 666.7,227.3 670.2,236.6 674.3,242.5 671.4,243.0 666.2,236.6 664.4,229.6 664.4,221.4 659.7,215.6 655.0,212.1 651.5,205.1 648.6,201.0 651.5,198.6Z" fill="#2e735e"/>
<path d="M656.7,238.3 666.7,243.3 675.0,251.7 680.0,260.0 675.0,261.7 666.7,255.0 660.0,245.0Z" fill="#2e735e"/>
<path d="M678.3,263.3 696.7,266.7 693.3,268.3 680.0,266.7Z" fill="#2e735e"/>
<path d="M686.7,246.7 693.3,243.3 703.3,236.7 708.3,238.3 705.0,246.7 701.7,256.7 695.0,256.7 688.3,251.7Z" fill="#2e735e"/>
<path d="M688.0,243.5 695.0,240.5 703.3,236.7 708.3,238.3 704.0,243.0 696.0,245.5 690.0,246.5Z" fill="#2e735e"/>
<path d="M708.3,250.0 716.7,251.0 714.0,256.0 716.0,261.7 711.0,261.0 710.0,255.0Z" fill="#2e735e"/>
<path d="M713.3,218.3 720.0,220.0 725.0,232.0 722.0,236.7 716.0,232.0 714.0,226.0Z" fill="#2e735e" stroke-width="2"/>
<path d="M738.3,251.7 750.0,254.0 756.7,256.0 756.7,266.7 748.0,262.0 740.0,258.0Z" fill="#2e735e"/>
<path d="M756.7,256.0 766.0,259.0 776.7,271.7 770.0,270.0 760.0,266.0 756.7,266.7Z" fill="#2e735e"/>
<path d="M697.4,298.5 704.7,294.8 714.6,290.3 716.5,286.7 724.6,281.2 731.9,278.5 735.5,274.9 746.4,276.7 748.2,283.9 754.6,285.8 758.2,282.1 760.0,274.9 764.5,281.2 768.2,290.3 775.4,296.6 780.9,303.0 784.5,310.2 783.6,319.3 779.0,326.6 775.4,332.0 766.3,333.8 755.5,332.0 750.0,324.8 746.4,321.1 742.8,320.2 733.7,319.3 719.2,321.1 706.5,326.6 701.0,322.9 699.2,313.9 695.6,306.6Z" fill="#66bb63"/>
<path d="M764.5,338.4 773.6,337.5 771.8,343.8 768.2,344.7Z" fill="#66bb63"/>
<path d="M829.8,331.1 838.9,332.0 834.4,339.3 828.0,341.1Z" fill="#2e735e"/>
<path d="M828.0,340.2 829.8,342.9 820.8,350.2 814.4,351.1 817.1,346.5Z" fill="#2e735e"/>
<path d="M622.9,229.6 625.8,230.8 627.0,234.9 624.1,235.4Z" fill="#2e735e"/>
<path d="M508.0,151.9 517.0,147.4 526.0,149.6 533.8,144.5 537.2,151.9 539.4,156.4 532.7,158.6 520.4,160.8 508.0,158.6 507.0,154.1Z" fill="#ffffff"/>
<path d="M700.0,267.5 712.0,267.5 730.0,269.0 712.0,268.6 700.0,268.5Z" fill="#c8c8c8"/>
<path d="M500.7,181 L500.7,202.5 L524.9,202.5 L524.9,186" fill="none" stroke="#d6d6d6" stroke-width="0.9"/>
</g>
<path d="M627.2,149.7 C621.6,147.0 602.8,138.0 593.3,133.3 C583.8,128.6 577.8,125.6 570.0,121.7 C562.2,117.8 554.5,113.9 546.7,110.0 C538.9,106.1 531.1,102.4 523.3,98.3 C515.5,94.2 507.8,89.8 500.0,85.5 C492.2,81.2 484.5,76.4 476.7,72.7 C468.9,69.0 461.2,66.0 453.3,63.6 C445.4,61.1 437.2,59.3 429.0,58.0 C420.8,56.7 412.2,55.3 404.0,55.6 C395.8,55.9 387.3,57.8 380.0,60.0 C372.7,62.2 366.7,65.2 360.0,69.0 C353.3,72.8 346.7,77.3 340.0,83.0 C333.3,88.7 326.7,96.0 320.0,103.0 C313.3,110.0 306.7,118.0 300.0,125.0 C293.3,132.0 286.3,138.7 280.0,145.0 C273.7,151.3 265.8,159.0 262.0,163.0 C258.2,167.0 257.8,168.0 257.0,169.0" fill="none" stroke="#000" stroke-width="2"/><path d="M257.0,169.0 L259.2,161.7 L260.1,165.2 L263.8,165.5Z" fill="#000"/><path d="M628.0,169.0 C624.2,167.3 614.7,162.4 605.0,159.0 C595.3,155.6 581.7,151.6 570.0,148.5 C558.3,145.4 546.7,142.2 535.0,140.3 C523.3,138.4 511.1,137.6 500.0,136.8 C488.9,136.0 473.8,135.9 468.5,135.7" fill="none" stroke="#000" stroke-width="2"/><path d="M468.5,135.7 L475.6,132.9 L473.4,135.9 L475.4,138.9Z" fill="#000"/><path d="M628.0,172.4 C619.2,171.3 590.5,168.1 575.0,166.0 C559.5,163.9 548.3,161.5 535.0,160.0 C521.7,158.5 508.3,157.8 495.0,157.0 C481.7,156.2 465.0,155.2 455.0,155.0 C445.0,154.8 442.5,155.4 435.0,155.8 C427.5,156.2 416.9,156.2 410.0,157.5 C403.1,158.8 398.9,160.7 393.3,163.3 C387.8,165.9 382.2,169.4 376.7,173.3 C371.1,177.2 365.6,181.7 360.0,186.7 C354.4,191.7 348.3,197.8 343.3,203.3 C338.3,208.9 334.4,214.6 330.0,220.0 C325.6,225.4 318.9,233.2 316.7,235.8" fill="none" stroke="#000" stroke-width="2"/><path d="M316.7,235.8 L318.9,228.5 L319.9,232.1 L323.5,232.4Z" fill="#000"/><path d="M628.0,173.0 C619.2,174.2 590.5,177.8 575.0,180.0 C559.5,182.2 548.3,183.7 535.0,186.0 C521.7,188.3 507.5,191.8 495.0,194.0 C482.5,196.2 471.4,197.1 460.0,199.2 C448.6,201.3 437.8,203.8 426.7,206.7 C415.6,209.6 403.0,213.1 393.3,216.7 C383.6,220.3 376.6,224.4 368.3,228.3 C360.0,232.2 351.2,235.1 343.3,240.0 C335.4,244.9 324.9,255.0 321.2,258.0" fill="none" stroke="#000" stroke-width="1"/><path d="M321.2,258.0 L324.2,252.2 L324.5,255.3 L327.5,256.2Z" fill="#000"/><path d="M360.8,271.5 C368.0,273.6 391.1,281.3 404.0,284.0 C416.9,286.7 427.9,288.9 438.0,287.7 C448.1,286.4 455.9,284.4 464.7,276.5 C473.5,268.6 482.8,250.8 491.0,240.4 C499.2,230.0 506.5,221.9 513.8,214.0 C521.1,206.1 531.1,196.7 534.6,193.2" fill="none" stroke="#000" stroke-width="2"/><path d="M534.6,193.2 L531.8,200.3 L531.1,196.7 L527.5,196.0Z" fill="#000"/><path d="M645.8,174.2 C619.6,213.1 584.5,199.6 551.7,195.0" fill="none" stroke="#000" stroke-width="2"/><path d="M551.7,195.0 L559.0,193.0 L556.6,195.7 L558.2,198.9Z" fill="#000"/><path d="M688.8,169.5 L737.5,169.5" fill="none" stroke="#000" stroke-width="2"/><path d="M737.5,169.5 L730.5,172.5 L732.6,169.5 L730.5,166.5Z" fill="#000"/><path d="M680.0,183.8 L692.5,236.0" fill="none" stroke="#000" stroke-width="2"/><path d="M692.5,236.0 L688.0,229.9 L691.4,231.2 L693.8,228.5Z" fill="#000"/><path d="M349.4,285.8 C357.3,290.2 379.4,303.5 396.7,312.3 C414.0,321.1 432.5,332.7 453.3,338.7 C474.1,344.7 501.1,348.2 521.3,348.2 C541.4,348.2 556.6,346.6 574.2,338.7 C591.8,330.8 611.6,314.2 627.0,301.0 C642.4,287.8 660.2,266.3 666.8,259.4" fill="none" stroke="#000" stroke-width="2"/><path d="M666.8,259.4 L664.1,266.5 L663.4,262.9 L659.8,262.4Z" fill="#000"/>
<text x="411" y="45" font-size="13" textLength="47.8" lengthAdjust="spacingAndGlyphs">1,737 kg</text><text x="500" y="131.3" font-size="13" textLength="39" lengthAdjust="spacingAndGlyphs">376 kg</text><text x="356" y="157" font-size="13" textLength="40.5" lengthAdjust="spacingAndGlyphs">248 kg</text><text x="361" y="214.5" font-size="13" textLength="31.5" lengthAdjust="spacingAndGlyphs">51 kg</text><text x="405.3" y="263.9" font-size="13" textLength="39.2" lengthAdjust="spacingAndGlyphs">798 kg</text><text x="568.5" y="219.2" font-size="13" textLength="37.5" lengthAdjust="spacingAndGlyphs">412 kg</text><text x="743.5" y="186.5" font-size="13" textLength="23.1" lengthAdjust="spacingAndGlyphs">593</text><text x="710" y="220" font-size="13" textLength="49.2" lengthAdjust="spacingAndGlyphs">1,592 kg</text><text x="587.5" y="343" font-size="13" textLength="37.5" lengthAdjust="spacingAndGlyphs">263 kg</text>
<path d="M640.0,551.8 C465.9,462.1 407.5,376.9 266.2,564.5" fill="none" stroke="#000" stroke-width="1.8"/><path d="M266.2,564.5 L268.0,557.1 L269.1,560.6 L272.8,560.7Z" fill="#000"/><path d="M626.7,555.6 C579.6,538.5 528.9,534.5 478.8,533.8" fill="none" stroke="#000" stroke-width="1.8"/><path d="M478.8,533.8 L485.8,530.9 L483.7,533.9 L485.8,536.9Z" fill="#000"/><path d="M314.0,622.0 C384.6,491.3 507.7,554.0 626.7,558.5" fill="none" stroke="#2aa7df" stroke-width="1.8"/><path d="M626.7,558.5 L619.6,561.2 L621.8,558.3 L619.8,555.2Z" fill="#2aa7df"/><path d="M362.7,642.9 C430.8,605.0 455.4,581.1 535.0,582.0" fill="none" stroke="#000" stroke-width="1.8"/><path d="M535.0,582.0 L528.0,584.9 L530.1,581.9 L528.0,578.9Z" fill="#000"/><path d="M627.1,570.2 C606.9,588.2 576.0,595.9 550.0,585.0" fill="none" stroke="#000" stroke-width="1.8"/><path d="M550.0,585.0 L557.6,584.9 L554.5,586.9 L555.3,590.5Z" fill="#000"/><path d="M374.0,656.1 C514.4,670.6 584.5,699.7 665.8,570.2" fill="none" stroke="#2aa7df" stroke-width="1.8"/><path d="M665.8,570.2 L664.6,577.7 L663.2,574.3 L659.5,574.5Z" fill="#2aa7df"/><path d="M697.5,562.0 L747.5,562.0" fill="none" stroke="#000" stroke-width="1.8"/><path d="M747.5,562.0 L740.5,565.0 L742.6,562.0 L740.5,559.0Z" fill="#000"/><path d="M679.5,580.0 L690.0,641.2" fill="none" stroke="#000" stroke-width="1.8"/><path d="M690.0,641.2 L685.9,634.9 L689.2,636.4 L691.8,633.8Z" fill="#000"/><path d="M366.4,675.0 C491.4,760.4 564.7,758.4 666.8,646.7" fill="none" stroke="#000" stroke-width="1.8"/><path d="M666.8,646.7 L664.3,653.9 L663.5,650.3 L659.9,649.8Z" fill="#000"/>
<text x="407.5" y="437" font-size="13" textLength="40" lengthAdjust="spacingAndGlyphs">705 kg</text><text x="371" y="543" font-size="13" textLength="38.75" lengthAdjust="spacingAndGlyphs">272 kg</text><text x="370" y="603" font-size="13" textLength="46.25" lengthAdjust="spacingAndGlyphs">1,125 kg</text><text x="532" y="527" font-size="13" textLength="31.75" lengthAdjust="spacingAndGlyphs">78 kg</text><text x="547.5" y="606" font-size="13" textLength="37.5" lengthAdjust="spacingAndGlyphs">216 kg</text><text x="758.75" y="582.5" font-size="13" textLength="41.25" lengthAdjust="spacingAndGlyphs">288 kg</text><text x="708.25" y="612" font-size="13" textLength="40.5" lengthAdjust="spacingAndGlyphs">736 kg</text><text x="440" y="656.5" font-size="13" textLength="42.8" lengthAdjust="spacingAndGlyphs">860 kg</text><text x="551.6" y="775.9" font-size="13" textLength="41.5" lengthAdjust="spacingAndGlyphs">483 kg</text>
<text x="44.5" y="27.9" font-size="18.5" font-weight="bold" fill="#000" style="stroke:#000;stroke-width:0.6px">a</text>
<text x="85.5" y="39" font-size="13.5">2010</text>
<text x="44.3" y="418.8" font-size="18.5" font-weight="bold" fill="#000" style="stroke:#000;stroke-width:0.6px">b</text>
<text x="86" y="429" font-size="13.5">2020</text>
<text x="71" y="237.5" font-size="12.5" textLength="135.5" lengthAdjust="spacingAndGlyphs">Antimicrobial intensity</text>
<text x="71" y="252.0" font-size="12.5" textLength="123" lengthAdjust="spacingAndGlyphs">(kg per million euro)</text>
<rect x="71.5" y="260.0" width="11.5" height="11.5" fill="#41695a" stroke="#222" stroke-width="1"/>
<text x="88" y="269.5" font-size="11">0.2–0.7</text>
<rect x="71.5" y="275.9" width="11.5" height="11.5" fill="#5db55e" stroke="#222" stroke-width="1"/>
<text x="88" y="285.4" font-size="11">0.8–1.4</text>
<rect x="71.5" y="291.8" width="11.5" height="11.5" fill="#d6ec88" stroke="#222" stroke-width="1"/>
<text x="88" y="301.3" font-size="11">1.5–2.7</text>
<rect x="71.5" y="307.7" width="11.5" height="11.5" fill="#fdfdc5" stroke="#222" stroke-width="1"/>
<text x="88" y="317.2" font-size="11">2.8–4.5</text>
<rect x="71.5" y="323.6" width="11.5" height="11.5" fill="#fdac63" stroke="#222" stroke-width="1"/>
<text x="88" y="333.1" font-size="11">4.6–6.0</text>
<rect x="71.5" y="339.5" width="11.5" height="11.5" fill="#f06a43" stroke="#222" stroke-width="1"/>
<text x="88" y="349.0" font-size="11">6.1–10.0</text>
<rect x="71.5" y="355.4" width="11.5" height="11.5" fill="#9e0000" stroke="#222" stroke-width="1"/>
<text x="88" y="364.9" font-size="11">10.1–13.0</text>
<text x="92.5" y="628.5" font-size="12.5" textLength="135.5" lengthAdjust="spacingAndGlyphs">Antimicrobial intensity</text>
<text x="92.5" y="643.0" font-size="12.5" textLength="123" lengthAdjust="spacingAndGlyphs">(kg per million euro)</text>
<rect x="93.0" y="651.0" width="11.5" height="11.5" fill="#41695a" stroke="#222" stroke-width="1"/>
<text x="109.5" y="660.5" font-size="11">0.2–0.7</text>
<rect x="93.0" y="666.9" width="11.5" height="11.5" fill="#5db55e" stroke="#222" stroke-width="1"/>
<text x="109.5" y="676.4" font-size="11">0.8–1.4</text>
<rect x="93.0" y="682.8" width="11.5" height="11.5" fill="#d6ec88" stroke="#222" stroke-width="1"/>
<text x="109.5" y="692.3" font-size="11">1.5–2.7</text>
<rect x="93.0" y="698.7" width="11.5" height="11.5" fill="#fdfdc5" stroke="#222" stroke-width="1"/>
<text x="109.5" y="708.2" font-size="11">2.8–4.5</text>
<rect x="93.0" y="714.6" width="11.5" height="11.5" fill="#fdac63" stroke="#222" stroke-width="1"/>
<text x="109.5" y="724.1" font-size="11">4.6–6.0</text>
<rect x="93.0" y="730.5" width="11.5" height="11.5" fill="#f06a43" stroke="#222" stroke-width="1"/>
<text x="109.5" y="740.0" font-size="11">6.1–10.0</text>
<rect x="93.0" y="746.4" width="11.5" height="11.5" fill="#9e0000" stroke="#222" stroke-width="1"/>
<text x="109.5" y="755.9" font-size="11">10.1–13.0</text>
</svg>
</body></html>
